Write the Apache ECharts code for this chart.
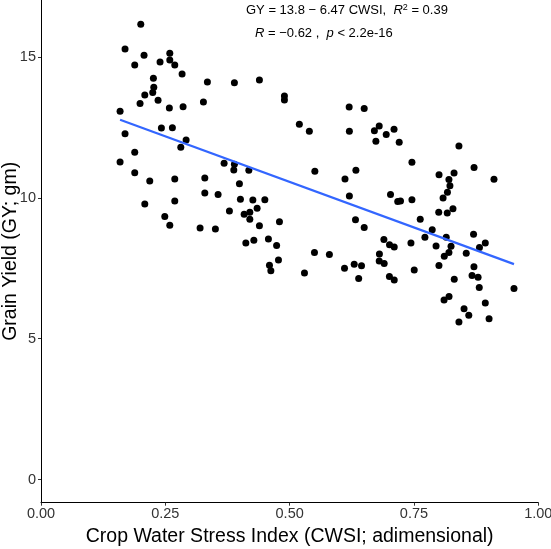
<!DOCTYPE html>
<html>
<head>
<meta charset="utf-8">
<script src="https://cdn.jsdelivr.net/npm/echarts@6/dist/echarts.min.js"></script>
<style>
html,body{margin:0;padding:0;background:#fff;}
#chart{width:551px;height:549px;}
</style>
</head>
<body>
<div id="chart"></div>
<script>
// Crop Water Stress Index (x) values
const cwsi = [
0.2006,0.169,0.2072,0.1885,0.259,0.259,0.2394,0.269,0.2837,0.226,
0.2268,0.2247,0.2087,0.2354,0.1992,0.2581,0.2857,0.3266,0.3346,0.3889,
0.4392,0.159,0.169,0.2421,0.2642,0.2918,0.2811,0.1885,0.159,0.1885,
0.2187,0.269,0.2087,0.269,0.2489,0.259,0.3294,0.3294,0.3561,0.3199,
0.3507,0.3682,0.3889,0.3877,0.4179,0.399,0.401,0.3789,0.4085,0.4199,
0.4199,0.426,0.4501,0.4346,0.4392,0.4119,0.428,0.4573,0.4594,0.4622,
0.4738,0.4795,0.4775,0.4895,0.4895,0.6197,0.6499,0.5195,0.5396,0.6201,
0.6704,0.6801,0.6942,0.7099,0.6734,0.7203,0.7459,0.8404,0.5507,0.6113,
0.6332,0.6201,0.7028,0.7173,0.7229,0.7459,0.8708,0.9109,0.8004,0.8203,
0.8306,0.8223,0.8173,0.8085,0.7998,0.8169,0.8284,0.7626,0.7867,0.772,
0.8149,0.6324,0.6499,0.6895,0.7008,0.7103,0.7439,0.7944,0.8245,0.8203,
0.8109,0.8698,0.8934,0.8817,0.8551,0.8706,0.8002,0.7505,0.6805,0.6801,
0.6901,0.6103,0.6298,0.6445,0.5499,0.5799,0.5298,0.6388,0.7006,0.7103,
0.8668,0.8789,0.831,0.8813,0.9511,0.8105,0.8205,0.8934,0.8507,0.8602,
0.901,0.8404
];
// Grain Yield (y) values
const grainYield = [
16.16,15.28,15.06,14.71,15.13,14.89,14.82,14.71,14.39,14.24,
13.92,13.74,13.65,13.46,13.35,13.19,13.23,13.40,14.11,14.08,
14.18,13.07,12.27,12.48,12.49,12.05,11.79,11.62,11.27,10.89,
10.60,10.67,9.78,9.89,9.34,9.03,10.70,10.17,10.12,8.93,
8.89,11.23,11.19,10.99,10.98,10.50,9.95,9.53,9.42,9.49,
9.24,9.92,9.93,9.63,9.01,8.40,8.49,8.54,7.61,7.41,
8.31,9.15,7.79,13.61,13.47,13.22,13.17,12.61,12.36,12.36,
12.38,12.55,12.25,12.43,12.01,11.97,11.26,11.84,10.94,10.67,
10.98,10.06,10.12,9.87,9.89,9.93,11.08,10.66,10.82,10.65,
10.88,10.43,10.20,9.99,9.49,9.46,9.61,9.24,8.87,8.60,
8.60,9.22,8.95,8.52,8.33,8.25,8.40,8.29,8.28,8.06,
7.93,8.71,8.40,8.24,8.03,7.55,7.60,7.44,8.01,7.76,
7.67,7.50,7.64,7.59,8.06,7.99,7.33,7.14,7.21,7.08,
7.24,7.18,7.11,6.82,6.78,6.37,6.50,6.27,6.06,5.83,
5.71,5.59
];
// Regression coefficients shown in the annotation
const intercept = 13.8;
const slope = -6.47;
// Axis tick values
const xTicks = [0, 0.25, 0.5, 0.75, 1.0];
const yTicks = [0, 5, 10, 15];

const points = cwsi.map((x, i) => [x, grainYield[i]]);
const xMin = Math.min(...cwsi), xMax = Math.max(...cwsi);
const fitLine = [[xMin, intercept + slope * xMin], [xMax, intercept + slope * xMax]];

const FONT = 'Liberation Sans, Arial, sans-serif';
const chart = echarts.init(document.getElementById('chart'), null, {renderer: 'canvas'});
chart.setOption({
  animation: false,
  backgroundColor: '#ffffff',
  grid: {left: 41, right: 12.7, top: 0, bottom: 46.3, containLabel: false, outerBoundsMode: 'none'},
  xAxis: {
    type: 'value', min: 0, max: 1, interval: 0.25,
    name: 'Crop Water Stress Index (CWSI; adimensional)',
    nameLocation: 'middle', nameGap: 23,
    nameTextStyle: {fontFamily: FONT, fontSize: 19.5, color: '#000'},
    axisLine: {show: true, onZero: false, lineStyle: {color: '#000', width: 1}},
    axisTick: {show: true, length: 3, customValues: xTicks, lineStyle: {color: '#333'}},
    axisLabel: {fontFamily: FONT, fontSize: 14.5, color: '#333', margin: 4,
      customValues: xTicks, formatter: v => v.toFixed(2)},
    splitLine: {show: false}
  },
  yAxis: {
    type: 'value', min: -0.82, max: 17.02,
    name: 'Grain Yield (GY; gm)',
    nameLocation: 'middle', nameGap: 20, nameRotate: 90, nameMoveOverlap: false,
    nameTextStyle: {fontFamily: FONT, fontSize: 19.5, color: '#000'},
    axisLine: {show: true, onZero: false, lineStyle: {color: '#000', width: 1}},
    axisTick: {show: true, length: 3, customValues: yTicks, lineStyle: {color: '#333'}},
    axisLabel: {fontFamily: FONT, fontSize: 14.5, color: '#333', margin: 5,
      customValues: yTicks},
    splitLine: {show: false}
  },
  series: [
    {
      type: 'scatter', data: points, symbol: 'circle', symbolSize: 7,
      itemStyle: {color: '#000', opacity: 1}, z: 2
    },
    {
      type: 'line', data: fitLine, showSymbol: false, symbol: 'none',
      lineStyle: {color: '#3366FF', width: 2.2}, z: 3
    }
  ],
  graphic: [
    {
      type: 'text', left: 246, top: 3,
      style: {
        text: 'GY = 13.8 \u2212 6.47 CWSI,  {i|R}{sup|2} = 0.39',
        fontFamily: FONT, fontSize: 13, fill: '#000',
        rich: {
          i: {fontStyle: 'italic', fontFamily: FONT, fontSize: 13},
          sup: {fontFamily: FONT, fontSize: 9, verticalAlign: 'top', padding: [0, 0, 6, 0]}
        }
      }
    },
    {
      type: 'text', left: 255, top: 27,
      style: {
        text: '{i|R} = \u22120.62 ,  {i|p} < 2.2e-16',
        fontFamily: FONT, fontSize: 13, fill: '#000',
        rich: {
          i: {fontStyle: 'italic', fontFamily: FONT, fontSize: 13}
        }
      }
    }
  ]
});
</script>
</body>
</html>
